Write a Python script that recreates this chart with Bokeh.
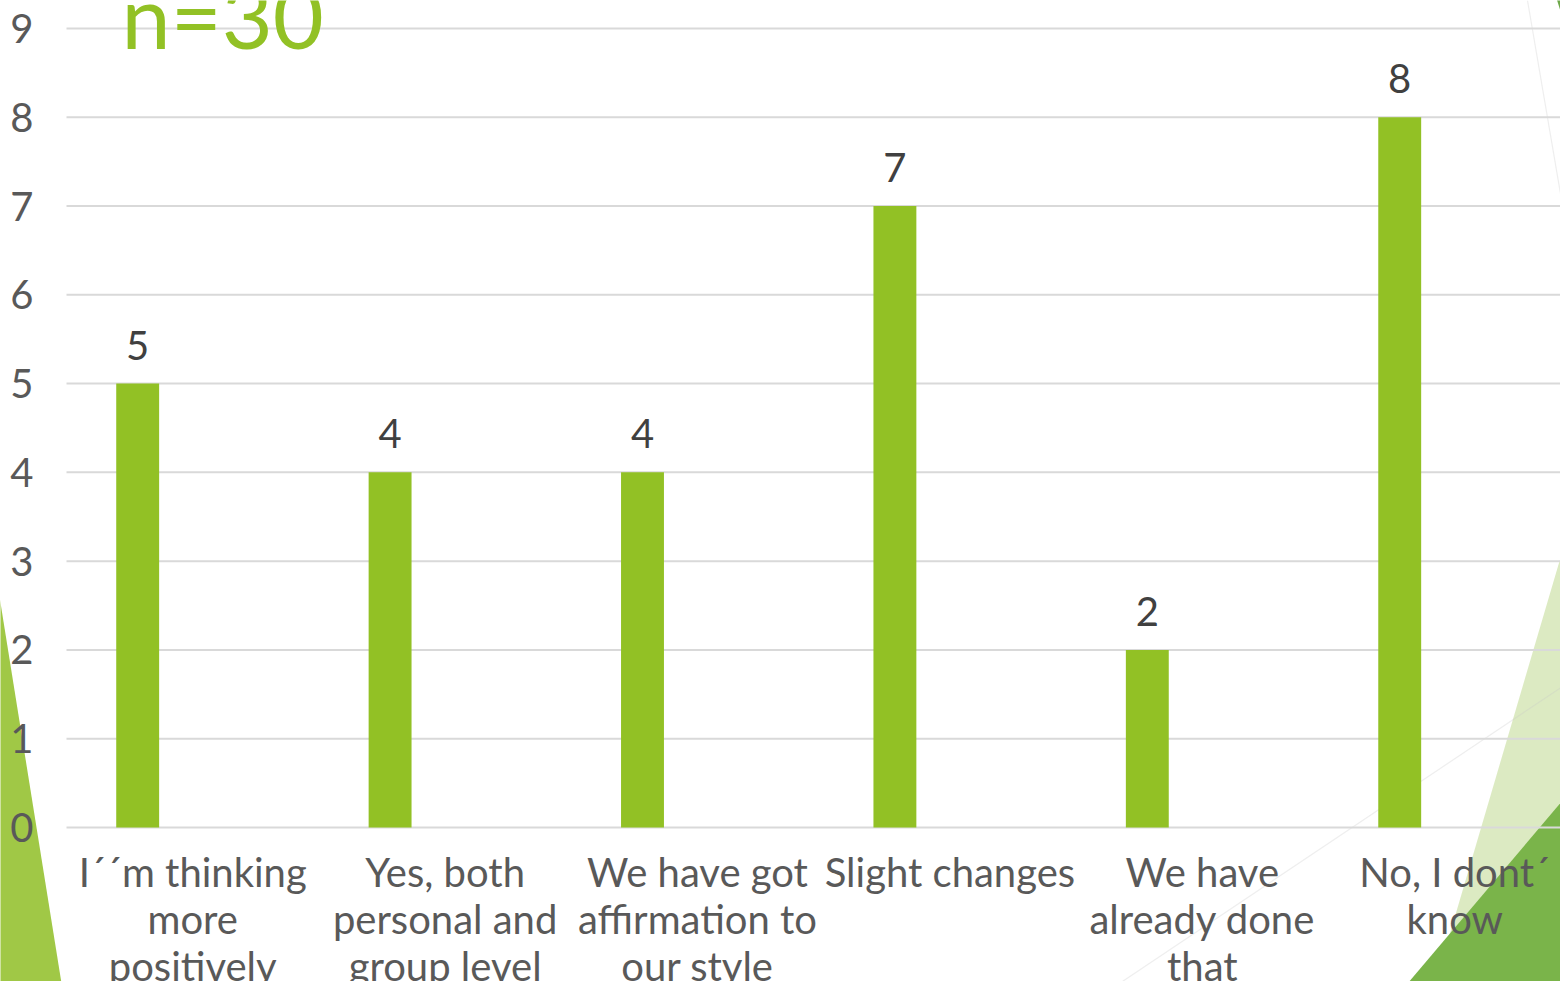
from bokeh.plotting import figure
from bokeh.models import Range1d, PolyAnnotation, LabelSet, ColumnDataSource
from bokeh.transform import dodge
from bokeh.core.properties import value
from bokeh.embed import file_html
from bokeh.resources import INLINE

# ---- data ----
categories = [
    "I\u00b4\u00b4m thinking\nmore\npositively",
    "Yes, both\npersonal and\ngroup level",
    "We have got\naffirmation to\nour style",
    "Slight changes",
    "We have\nalready done\nthat",
    "No, I dont\u00b4\nknow",
]
values = [5, 4, 4, 7, 2, 8]
value_labels = [str(v) for v in values]
y_ticks = [0, 1, 2, 3, 4, 5, 6, 7, 8, 9]
y_tick_labels = [str(t) for t in y_ticks]
sample_note = "n=30"

# ---- styling ----
BAR = "#92C125"
GRID = "#D9D9D9"
TXT = "#595959"
FONT = "Lato"
W, H = 1560, 981
X_START, X_END = -0.2615, 5.919
Y_START, Y_END = -1.735, 9.315

positions = [i + 0.5 for i in range(len(categories))]
src = ColumnDataSource(dict(x=positions, value=values, label=value_labels, cat=categories))
tick_src = ColumnDataSource(dict(y=y_ticks, label=y_tick_labels))

p = figure(width=W, height=H,
           x_range=Range1d(X_START, X_END), y_range=Range1d(Y_START, Y_END),
           x_axis_location=None, y_axis_location=None,
           output_backend="svg", toolbar_location=None,
           min_border=0, min_border_left=0, min_border_right=0,
           min_border_top=0, min_border_bottom=0)
p.outline_line_color = None
p.background_fill_color = "white"
p.border_fill_color = "white"
p.xgrid.visible = False
p.ygrid.visible = False

# background decorations (canvas pixel coordinates)
deco = [
    dict(xs=[-2, 62, -2], ys=[590, 989, 989], color="#A0C846"),
    dict(xs=[1568, 1433, 1568], ys=[530, 989, 989], color="#DCEAC2"),
    dict(xs=[1568, 1402, 1568], ys=[793, 989, 989], color="#7AB44A"),
    dict(xs=[1556, 1568, 1568], ys=[-2, -2, 36], color="#6EA84A"),
]
for d in deco:
    p.add_layout(PolyAnnotation(xs=d["xs"], ys=d["ys"], xs_units="canvas", ys_units="canvas",
                                fill_color=d["color"], fill_alpha=1.0, line_color=None,
                                level="image"))
for xs, ys in [([1527, 1568], [0, 240]), ([1110, 1568], [989, 682])]:
    p.add_layout(PolyAnnotation(xs=xs, ys=ys, xs_units="canvas", ys_units="canvas",
                                fill_alpha=0, line_color="#C8C8C8", line_width=1.2,
                                level="image"))

# horizontal gridlines (incl. the category axis line at 0)
p.segment(x0=0, x1=X_END, y0="y", y1="y", source=tick_src, line_color=GRID, line_width=2)

# y tick labels
p.text(x=0, y="y", text="label", source=tick_src, x_offset=-33,
       text_align="right", text_baseline="middle",
       text_font=value(FONT), text_font_size="40px", text_color=TXT)

# bars
bx = dodge("x", -0.218, range=p.x_range)
p.vbar(x=bx, top="value", width=0.170, source=src, fill_color=BAR, line_color=None)

p.add_layout(LabelSet(x=bx, y="value", text="label", source=src, y_offset=24,
                      text_align="center", text_baseline="alphabetic",
                      text_font=value(FONT), text_font_size="40px", text_color="#404040"))

# category labels
p.text(x="x", y=0, text="cat", source=src, y_offset=21,
       text_align="center", text_baseline="top",
       text_font=value(FONT), text_font_size="40px", text_color=TXT,
       text_line_height=0.97)

# n=30 note
p.text(x=[0.218], y=[9.157], text=[sample_note],
       text_align="left", text_baseline="alphabetic",
       text_font=value(FONT), text_font_size="88px", text_color=BAR)

open("out.html", "w").write(file_html(p, INLINE))
